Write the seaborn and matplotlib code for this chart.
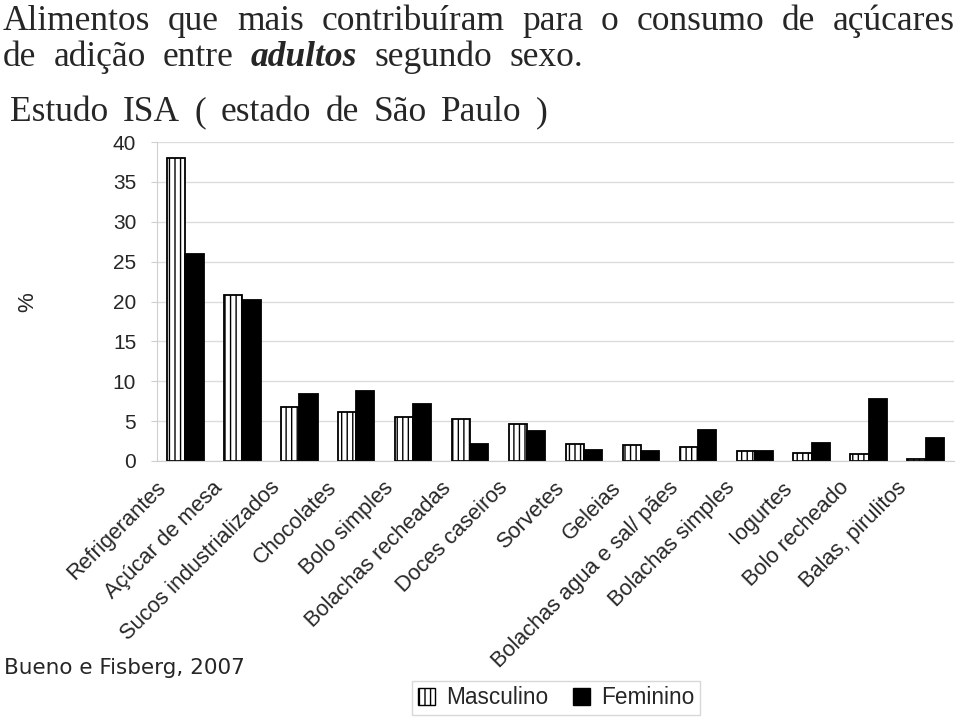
import matplotlib
matplotlib.use("Agg")
import matplotlib.pyplot as plt
import matplotlib.transforms as mtransforms
import seaborn as sns
import pandas as pd
from matplotlib.patches import Patch

alimentos = ["Refrigerantes", "Açúcar de mesa", "Sucos industrializados", "Chocolates",
             "Bolo simples", "Bolachas recheadas", "Doces caseiros", "Sorvetes", "Geleias",
             "Bolachas agua e sal/ pães", "Bolachas simples", "Iogurtes", "Bolo recheado",
             "Balas, pirulitos"]
masculino = [38.0, 20.8, 6.8, 6.1, 5.5, 5.3, 4.6, 2.1, 2.0, 1.7, 1.2, 1.0, 0.9, 0.2]
feminino = [26.0, 20.2, 8.4, 8.8, 7.1, 2.1, 3.8, 1.4, 1.2, 3.9, 1.2, 2.3, 7.8, 2.9]
sexos = ["Masculino", "Feminino"]

df = pd.DataFrame({
    "alimento": alimentos * 2,
    "valor": masculino + feminino,
    "sexo": [sexos[0]] * len(alimentos) + [sexos[1]] * len(alimentos),
})

sns.set_style("white")
plt.rcParams["font.family"] = ["Liberation Sans", "DejaVu Sans"]
plt.rcParams["hatch.linewidth"] = 1.0

fig, ax = plt.subplots(figsize=(9.6, 7.17), dpi=100)
fig.subplots_adjust(left=157/960, right=954/960, top=1-142/717, bottom=1-461/717)

sns.barplot(data=df, x="alimento", y="valor", hue="sexo", hue_order=sexos,
            palette=["white", "black"], width=0.64, edgecolor="black", linewidth=1.3,
            legend=False, ax=ax)

n = len(alimentos)
for bar in ax.patches[:n]:
    bar.set_hatch("|||")
    bar.set_facecolor("white")

ax.set_ylim(0, 40)
ax.set_yticks(range(0, 41, 5))
ax.yaxis.grid(True, color="#dcdcdc", linewidth=1)
ax.set_axisbelow(True)
for side in ["top", "right"]:
    ax.spines[side].set_visible(False)
for side in ["left", "bottom"]:
    ax.spines[side].set_color("#cfcfcf")
ax.tick_params(axis="y", labelsize=15, left=True, length=4, color="#cfcfcf", pad=11)
ax.tick_params(axis="x", labelsize=15.7, bottom=False, pad=4)
ax.set_xticks(range(n))
ax.set_xticklabels(alimentos, rotation=45, ha="right", rotation_mode="anchor")
shift = mtransforms.ScaledTranslation(-0.30, -0.06, fig.dpi_scale_trans)
for lbl in ax.get_xticklabels():
    lbl.set_transform(lbl.get_transform() + shift)
ax.set_xlabel("")
ax.set_ylabel("")
fig.text(28/960, 1-302/717, "%", rotation=90, fontsize=16, ha="center", va="center")

# titulo, palavras espalhadas como no original
serif = ["Liberation Serif", "DejaVu Serif"]
r = fig.canvas.get_renderer()


def linha(palavras, x0, x1, y, size=25.5):
    textos = []
    for palavra, peso, estilo in palavras:
        t = fig.text(0, 1 - y/717, palavra, family=serif, fontsize=size,
                     weight=peso, style=estilo, va="baseline")
        textos.append(t)
    larguras = [t.get_window_extent(renderer=r).width for t in textos]
    gap = (x1 - x0 - sum(larguras)) / (len(textos) - 1)
    x = x0
    for t, w in zip(textos, larguras):
        t.set_x(x/960)
        x += w + gap


def simples(frase):
    return [(p, "normal", "normal") for p in frase.split()]


linha(simples("Alimentos que mais contribuíram para o consumo de açúcares"), 3, 955, 30)
linha(simples("de adição entre") + [("adultos", "bold", "italic")]
      + simples("segundo sexo."), 3, 583, 66)
linha(simples("Estudo ISA ( estado de São Paulo )"), 10, 548, 121)

fig.text(4/960, 1-668/717, "Bueno e Fisberg, 2007", fontsize=15.5, va="center",
         family=["DejaVu Sans"])

handles = [Patch(facecolor="white", edgecolor="black", hatch="|||"),
           Patch(facecolor="black", edgecolor="black")]
fig.legend(handles, sexos, loc="center", bbox_to_anchor=(556/960, 1-698/717), ncol=2,
           fontsize=16.3, frameon=True, fancybox=False, edgecolor="#cfcfcf",
           handlelength=0.75, handleheight=0.75, handletextpad=0.5, columnspacing=1.1,
           borderpad=0.25)

fig.savefig("out.png", dpi=100)
